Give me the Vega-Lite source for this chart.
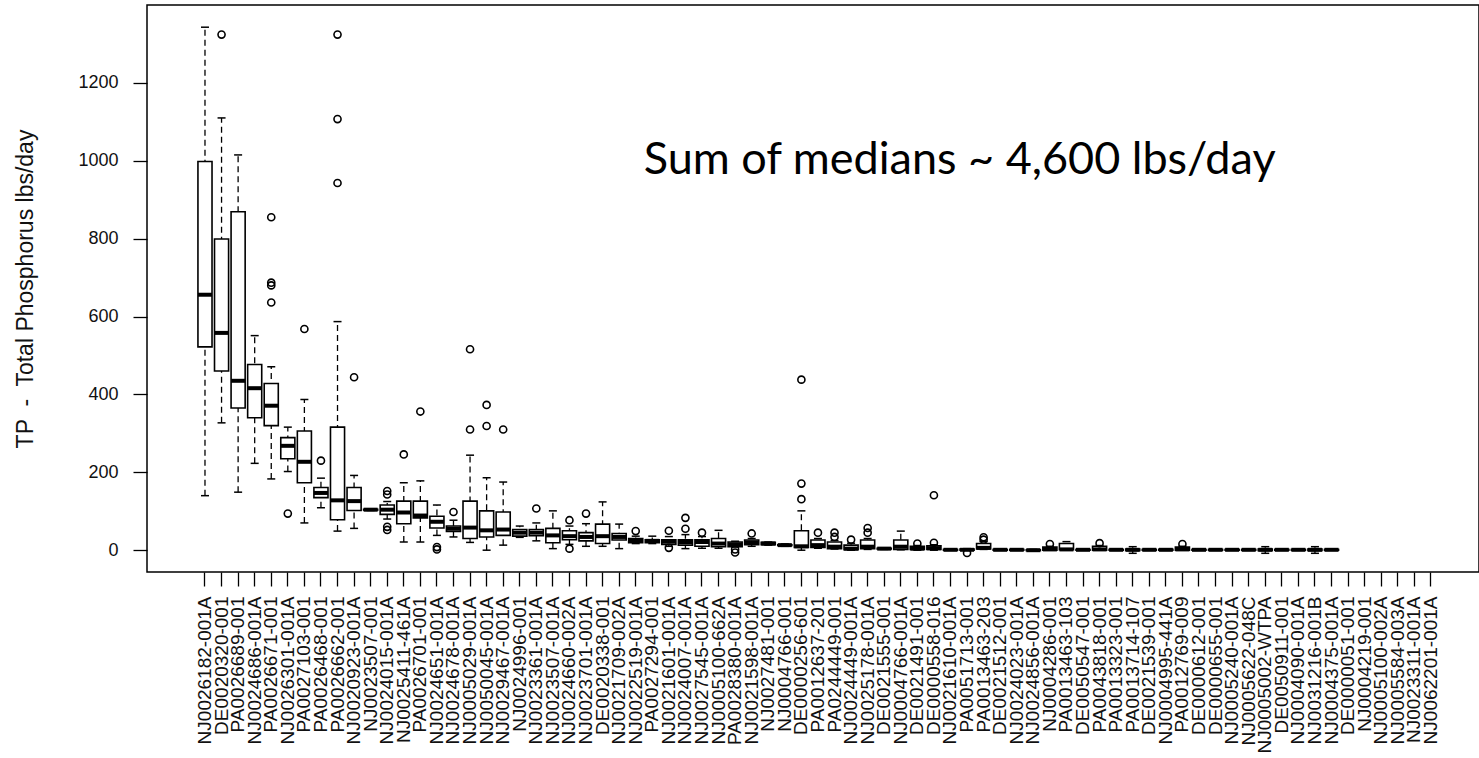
{
  "$schema": "https://vega.github.io/schema/vega-lite/v6.json",
  "width": 1332,
  "height": 567,
  "autosize": "none",
  "padding": {"left": 147, "top": 5, "right": 0, "bottom": 186},
  "background": "#ffffff",
  "config": {
    "view": {"stroke": "#000000", "strokeWidth": 1.5},
    "font": "Liberation Sans",
    "axisX": {"domain": false, "grid": false, "tickSize": 14, "tickColor": "#000000", "tickWidth": 1.3, "labelAngle": -90, "labelAlign": "right", "labelBaseline": "middle", "labelFont": "Liberation Sans", "labelFontSize": 19, "labelColor": "#111111", "labelPadding": 10, "labelOverlap": false, "labelLimit": 400},
    "axisY": {"domain": false, "grid": false, "tickSize": 14, "tickColor": "#000000", "tickWidth": 1.3, "labelFont": "Liberation Sans", "labelFontSize": 18, "labelColor": "#111111", "labelPadding": 15, "titleFont": "Liberation Sans", "titleFontSize": 23, "titleFontWeight": "normal", "titleColor": "#111111", "titlePadding": 40}
  },
  "datasets": {
    "boxes": [
      {"site": "NJ0026182-001A", "lo": 140, "q1": 522, "med": 656, "q3": 998, "hi": 1343},
      {"site": "DE0020320-001", "lo": 327, "q1": 460, "med": 558, "q3": 799, "hi": 1110},
      {"site": "PA0026689-001", "lo": 149, "q1": 365, "med": 435, "q3": 869, "hi": 1015},
      {"site": "NJ0024686-001A", "lo": 223, "q1": 340, "med": 416, "q3": 477, "hi": 551},
      {"site": "PA0026671-001", "lo": 183, "q1": 320, "med": 371, "q3": 428, "hi": 471},
      {"site": "NJ0026301-001A", "lo": 202, "q1": 235, "med": 268, "q3": 289, "hi": 316},
      {"site": "PA0027103-001", "lo": 70, "q1": 173, "med": 227, "q3": 306, "hi": 387},
      {"site": "PA0026468-001", "lo": 109, "q1": 135, "med": 147, "q3": 161, "hi": 185},
      {"site": "PA0026662-001", "lo": 49, "q1": 78, "med": 128, "q3": 316, "hi": 587},
      {"site": "NJ0020923-001A", "lo": 56, "q1": 102, "med": 126, "q3": 161, "hi": 192},
      {"site": "NJ0023507-001", "lo": 102, "q1": 103, "med": 104, "q3": 105, "hi": 106},
      {"site": "NJ0024015-001A", "lo": 80, "q1": 92, "med": 104, "q3": 116, "hi": 125},
      {"site": "NJ0025411-461A", "lo": 21, "q1": 68, "med": 97, "q3": 126, "hi": 173},
      {"site": "PA0026701-001", "lo": 21, "q1": 83, "med": 89, "q3": 126, "hi": 178},
      {"site": "NJ0024651-001A", "lo": 38, "q1": 57, "med": 73, "q3": 87, "hi": 116},
      {"site": "NJ0024678-001A", "lo": 34, "q1": 48, "med": 55, "q3": 62, "hi": 77},
      {"site": "NJ0005029-001A", "lo": 20, "q1": 30, "med": 58, "q3": 126, "hi": 244},
      {"site": "NJ0050045-001A", "lo": 0, "q1": 34, "med": 51, "q3": 101, "hi": 186},
      {"site": "NJ0029467-001A", "lo": 13, "q1": 38, "med": 53, "q3": 98, "hi": 175},
      {"site": "NJ0024996-001", "lo": 33, "q1": 36, "med": 45, "q3": 53, "hi": 62},
      {"site": "NJ0023361-001A", "lo": 24, "q1": 37, "med": 45, "q3": 53, "hi": 70},
      {"site": "NJ0023507-001A", "lo": 4, "q1": 19, "med": 38, "q3": 56, "hi": 101},
      {"site": "NJ0024660-002A", "lo": 15, "q1": 27, "med": 36, "q3": 50, "hi": 62},
      {"site": "NJ0023701-001A", "lo": 10, "q1": 24, "med": 34, "q3": 45, "hi": 68},
      {"site": "DE0020338-001", "lo": 10, "q1": 17, "med": 36, "q3": 67, "hi": 124},
      {"site": "NJ0021709-002A", "lo": 4, "q1": 26, "med": 34, "q3": 43, "hi": 67},
      {"site": "NJ0022519-001A", "lo": 17, "q1": 19, "med": 24, "q3": 30, "hi": 36},
      {"site": "PA0027294-001", "lo": 17, "q1": 19, "med": 24, "q3": 27, "hi": 36},
      {"site": "NJ0021601-001A", "lo": 10, "q1": 15, "med": 22, "q3": 27, "hi": 35},
      {"site": "NJ0024007-001A", "lo": 4, "q1": 13, "med": 21, "q3": 27, "hi": 40},
      {"site": "NJ0027545-001A", "lo": 5, "q1": 10, "med": 21, "q3": 27, "hi": 35},
      {"site": "NJ0005100-662A", "lo": 5, "q1": 9, "med": 17, "q3": 30, "hi": 51},
      {"site": "PA0028380-001A", "lo": 8, "q1": 9, "med": 15, "q3": 21, "hi": 23},
      {"site": "NJ0021598-001A", "lo": 10, "q1": 14, "med": 20, "q3": 26, "hi": 30},
      {"site": "NJ0027481-001", "lo": 13, "q1": 14, "med": 17, "q3": 20, "hi": 21},
      {"site": "NJ0004766-001", "lo": 10, "q1": 12, "med": 13, "q3": 14, "hi": 16},
      {"site": "DE0000256-601", "lo": 0, "q1": 7, "med": 10, "q3": 50, "hi": 101},
      {"site": "PA0012637-201", "lo": 5, "q1": 7, "med": 13, "q3": 26, "hi": 30},
      {"site": "PA0244449-001", "lo": 3, "q1": 4, "med": 9, "q3": 21, "hi": 25},
      {"site": "NJ0024449-001A", "lo": 0, "q1": 1, "med": 4, "q3": 13, "hi": 18},
      {"site": "NJ0025178-001A", "lo": 2, "q1": 4, "med": 9, "q3": 26, "hi": 30},
      {"site": "DE0021555-001", "lo": 2, "q1": 3, "med": 4, "q3": 5, "hi": 6},
      {"site": "NJ0004766-001A", "lo": 1, "q1": 2, "med": 9, "q3": 26, "hi": 49},
      {"site": "DE0021491-001", "lo": 0, "q1": 2, "med": 4, "q3": 10, "hi": 12},
      {"site": "DE0000558-016", "lo": 0, "q1": 2, "med": 5, "q3": 11, "hi": 14},
      {"site": "NJ0021610-001A", "lo": 0, "q1": 0, "med": 1, "q3": 2, "hi": 3},
      {"site": "PA0051713-001", "lo": 0, "q1": 0, "med": 1, "q3": 3, "hi": 4},
      {"site": "PA0013463-203", "lo": 2, "q1": 3, "med": 6, "q3": 17, "hi": 22},
      {"site": "DE0021512-001", "lo": 0, "q1": 0, "med": 1, "q3": 2, "hi": 3},
      {"site": "NJ0024023-001A", "lo": 0, "q1": 0, "med": 1, "q3": 2, "hi": 3},
      {"site": "NJ0024856-001A", "lo": -2, "q1": -1, "med": 0, "q3": 1, "hi": 2},
      {"site": "NJ0004286-001", "lo": 0, "q1": 0, "med": 2, "q3": 8, "hi": 10},
      {"site": "PA0013463-103", "lo": 0, "q1": 1, "med": 2, "q3": 17, "hi": 22},
      {"site": "DE0050547-001", "lo": 0, "q1": 0, "med": 1, "q3": 2, "hi": 3},
      {"site": "PA0043818-001", "lo": 0, "q1": 0, "med": 2, "q3": 10, "hi": 12},
      {"site": "PA0013323-001", "lo": 0, "q1": 0, "med": 1, "q3": 2, "hi": 3},
      {"site": "PA0013714-107", "lo": -8, "q1": -1, "med": 1, "q3": 3, "hi": 9},
      {"site": "DE0021539-001", "lo": 0, "q1": 0, "med": 1, "q3": 2, "hi": 3},
      {"site": "NJ0004995-441A", "lo": 0, "q1": 0, "med": 1, "q3": 2, "hi": 3},
      {"site": "PA0012769-009", "lo": 0, "q1": 0, "med": 2, "q3": 8, "hi": 10},
      {"site": "DE0000612-001", "lo": 0, "q1": 0, "med": 1, "q3": 2, "hi": 3},
      {"site": "DE0000655-001", "lo": 0, "q1": 0, "med": 1, "q3": 2, "hi": 3},
      {"site": "NJ0005240-001A", "lo": 0, "q1": 0, "med": 1, "q3": 2, "hi": 3},
      {"site": "NJ0005622-048C", "lo": 0, "q1": 0, "med": 1, "q3": 2, "hi": 3},
      {"site": "NJ0005002-WTPA", "lo": -8, "q1": -1, "med": 1, "q3": 3, "hi": 9},
      {"site": "DE0050911-001", "lo": 0, "q1": 0, "med": 1, "q3": 2, "hi": 3},
      {"site": "NJ0004090-001A", "lo": 0, "q1": 0, "med": 1, "q3": 2, "hi": 3},
      {"site": "NJ0031216-001B", "lo": -8, "q1": -1, "med": 1, "q3": 3, "hi": 9},
      {"site": "NJ0004375-001A", "lo": 0, "q1": 0, "med": 1, "q3": 2, "hi": 3}
    ],
    "outliers": [
      {"site": "DE0020320-001", "value": 1324},
      {"site": "PA0026671-001", "value": 855},
      {"site": "PA0026671-001", "value": 687},
      {"site": "PA0026671-001", "value": 680},
      {"site": "PA0026671-001", "value": 636},
      {"site": "NJ0026301-001A", "value": 94},
      {"site": "PA0027103-001", "value": 568},
      {"site": "PA0026468-001", "value": 230},
      {"site": "PA0026662-001", "value": 1324},
      {"site": "PA0026662-001", "value": 1107},
      {"site": "PA0026662-001", "value": 943},
      {"site": "NJ0020923-001A", "value": 444},
      {"site": "NJ0024015-001A", "value": 152},
      {"site": "NJ0024015-001A", "value": 143},
      {"site": "NJ0024015-001A", "value": 60},
      {"site": "NJ0024015-001A", "value": 52},
      {"site": "NJ0025411-461A", "value": 246},
      {"site": "PA0026701-001", "value": 356},
      {"site": "NJ0024651-001A", "value": 8},
      {"site": "NJ0024651-001A", "value": 2},
      {"site": "NJ0024678-001A", "value": 98},
      {"site": "NJ0005029-001A", "value": 516},
      {"site": "NJ0005029-001A", "value": 310},
      {"site": "NJ0050045-001A", "value": 373},
      {"site": "NJ0050045-001A", "value": 319},
      {"site": "NJ0029467-001A", "value": 310},
      {"site": "NJ0023361-001A", "value": 107},
      {"site": "NJ0024660-002A", "value": 77},
      {"site": "NJ0024660-002A", "value": 4},
      {"site": "NJ0023701-001A", "value": 94},
      {"site": "NJ0022519-001A", "value": 49},
      {"site": "NJ0021601-001A", "value": 50},
      {"site": "NJ0021601-001A", "value": 6},
      {"site": "NJ0024007-001A", "value": 83},
      {"site": "NJ0024007-001A", "value": 55},
      {"site": "NJ0027545-001A", "value": 45},
      {"site": "PA0028380-001A", "value": 2},
      {"site": "PA0028380-001A", "value": -6},
      {"site": "NJ0021598-001A", "value": 43},
      {"site": "DE0000256-601", "value": 438},
      {"site": "DE0000256-601", "value": 171},
      {"site": "DE0000256-601", "value": 131},
      {"site": "PA0012637-201", "value": 45},
      {"site": "PA0244449-001", "value": 45},
      {"site": "PA0244449-001", "value": 34},
      {"site": "NJ0024449-001A", "value": 27},
      {"site": "NJ0025178-001A", "value": 57},
      {"site": "NJ0025178-001A", "value": 45},
      {"site": "DE0021491-001", "value": 17},
      {"site": "DE0000558-016", "value": 141},
      {"site": "DE0000558-016", "value": 19},
      {"site": "PA0051713-001", "value": -7},
      {"site": "PA0013463-203", "value": 33},
      {"site": "PA0013463-203", "value": 27},
      {"site": "NJ0004286-001", "value": 16},
      {"site": "PA0043818-001", "value": 18},
      {"site": "PA0012769-009", "value": 16}
    ],
    "note": [
      {"site": "NJ0022519-001A", "value": 965, "label": "Sum of medians ~ 4,600 lbs/day"}
    ]
  },
  "encoding": {
    "x": {
      "field": "site",
      "type": "nominal",
      "title": null,
      "scale": {
        "type": "band",
        "domain": ["NJ0026182-001A", "DE0020320-001", "PA0026689-001", "NJ0024686-001A", "PA0026671-001", "NJ0026301-001A", "PA0027103-001", "PA0026468-001", "PA0026662-001", "NJ0020923-001A", "NJ0023507-001", "NJ0024015-001A", "NJ0025411-461A", "PA0026701-001", "NJ0024651-001A", "NJ0024678-001A", "NJ0005029-001A", "NJ0050045-001A", "NJ0029467-001A", "NJ0024996-001", "NJ0023361-001A", "NJ0023507-001A", "NJ0024660-002A", "NJ0023701-001A", "DE0020338-001", "NJ0021709-002A", "NJ0022519-001A", "PA0027294-001", "NJ0021601-001A", "NJ0024007-001A", "NJ0027545-001A", "NJ0005100-662A", "PA0028380-001A", "NJ0021598-001A", "NJ0027481-001", "NJ0004766-001", "DE0000256-601", "PA0012637-201", "PA0244449-001", "NJ0024449-001A", "NJ0025178-001A", "DE0021555-001", "NJ0004766-001A", "DE0021491-001", "DE0000558-016", "NJ0021610-001A", "PA0051713-001", "PA0013463-203", "DE0021512-001", "NJ0024023-001A", "NJ0024856-001A", "NJ0004286-001", "PA0013463-103", "DE0050547-001", "PA0043818-001", "PA0013323-001", "PA0013714-107", "DE0021539-001", "NJ0004995-441A", "PA0012769-009", "DE0000612-001", "DE0000655-001", "NJ0005240-001A", "NJ0005622-048C", "NJ0005002-WTPA", "DE0050911-001", "NJ0004090-001A", "NJ0031216-001B", "NJ0004375-001A", "DE0000051-001", "NJ0004219-001", "NJ0005100-002A", "NJ0005584-003A", "NJ0023311-001A", "NJ0062201-001A"],
        "paddingInner": 0,
        "paddingOuter": 0,
        "range": [49.7, 1292.2]
      }
    }
  },
  "layer": [
    {
      "data": {"name": "boxes"},
      "mark": {"type": "rule", "color": "#000000", "strokeWidth": 1.3, "strokeDash": [6, 4], "opacity": 1},
      "encoding": {
        "y": {"field": "lo", "type": "quantitative", "title": "TP \u00a0-\u00a0 Total Phosphorus lbs/day", "scale": {"domain": [-56, 1400], "nice": false, "zero": false}, "axis": {"values": [0, 200, 400, 600, 800, 1000, 1200], "format": "d"}},
        "y2": {"field": "hi"}
      }
    },
    {
      "data": {"name": "boxes"},
      "mark": {"type": "tick", "color": "#000000", "size": 8, "thickness": 1.5, "opacity": 1},
      "encoding": {
        "y": {"field": "lo", "type": "quantitative", "title": "TP \u00a0-\u00a0 Total Phosphorus lbs/day", "scale": {"domain": [-56, 1400], "nice": false, "zero": false}, "axis": {"values": [0, 200, 400, 600, 800, 1000, 1200], "format": "d"}}
      }
    },
    {
      "data": {"name": "boxes"},
      "mark": {"type": "tick", "color": "#000000", "size": 8, "thickness": 1.5, "opacity": 1},
      "encoding": {
        "y": {"field": "hi", "type": "quantitative", "title": "TP \u00a0-\u00a0 Total Phosphorus lbs/day", "scale": {"domain": [-56, 1400], "nice": false, "zero": false}, "axis": {"values": [0, 200, 400, 600, 800, 1000, 1200], "format": "d"}}
      }
    },
    {
      "data": {"name": "boxes"},
      "mark": {"type": "bar", "fill": "#ffffff", "stroke": "#000000", "strokeWidth": 1.6, "width": {"band": 0.85}, "opacity": 1},
      "encoding": {
        "y": {"field": "q1", "type": "quantitative", "title": "TP \u00a0-\u00a0 Total Phosphorus lbs/day", "scale": {"domain": [-56, 1400], "nice": false, "zero": false}, "axis": {"values": [0, 200, 400, 600, 800, 1000, 1200], "format": "d"}},
        "y2": {"field": "q3"}
      }
    },
    {
      "data": {"name": "boxes"},
      "mark": {"type": "tick", "color": "#000000", "size": 14, "thickness": 4, "opacity": 1},
      "encoding": {
        "y": {"field": "med", "type": "quantitative", "title": "TP \u00a0-\u00a0 Total Phosphorus lbs/day", "scale": {"domain": [-56, 1400], "nice": false, "zero": false}, "axis": {"values": [0, 200, 400, 600, 800, 1000, 1200], "format": "d"}}
      }
    },
    {
      "data": {"name": "outliers"},
      "mark": {"type": "point", "shape": "circle", "filled": false, "stroke": "#000000", "strokeWidth": 1.6, "size": 50, "opacity": 1},
      "encoding": {
        "y": {"field": "value", "type": "quantitative", "title": "TP \u00a0-\u00a0 Total Phosphorus lbs/day", "scale": {"domain": [-56, 1400], "nice": false, "zero": false}, "axis": {"values": [0, 200, 400, 600, 800, 1000, 1200], "format": "d"}}
      }
    },
    {
      "data": {"name": "note"},
      "mark": {"type": "text", "font": "Lato", "fontSize": 45, "align": "left", "baseline": "alphabetic", "dx": 8, "color": "#000000"},
      "encoding": {
        "y": {"field": "value", "type": "quantitative", "title": "TP \u00a0-\u00a0 Total Phosphorus lbs/day", "scale": {"domain": [-56, 1400], "nice": false, "zero": false}, "axis": {"values": [0, 200, 400, 600, 800, 1000, 1200], "format": "d"}},
        "text": {"field": "label"}
      }
    }
  ]
}
